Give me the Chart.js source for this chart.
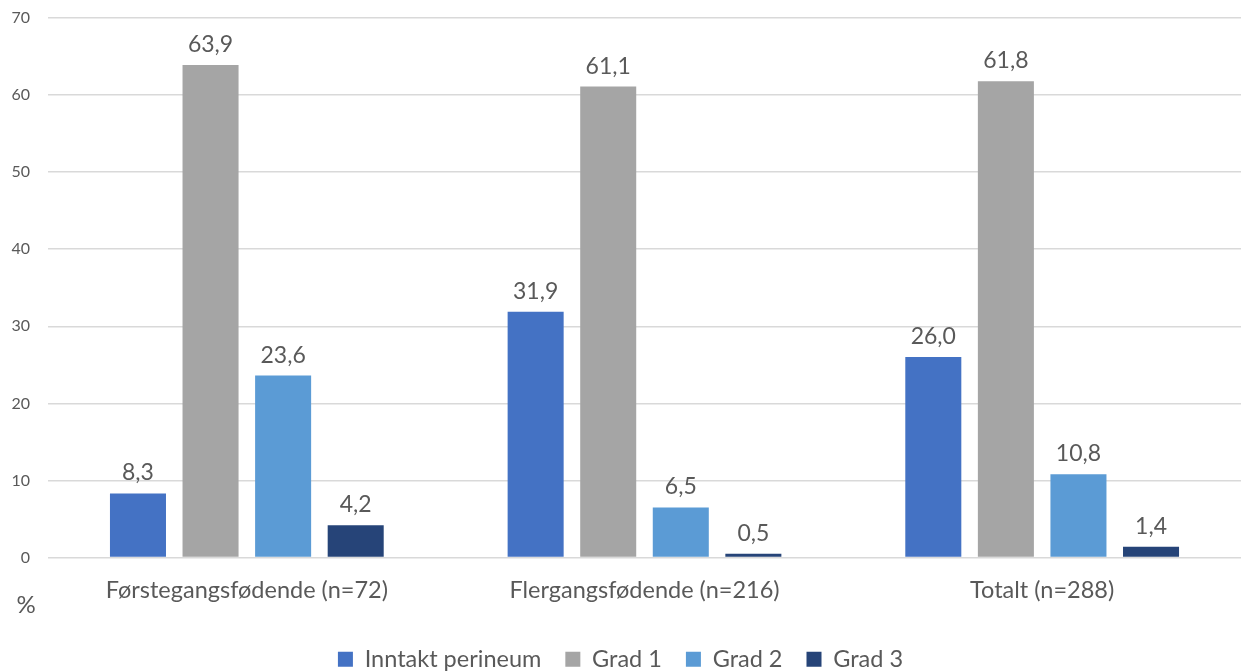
<!DOCTYPE html>
<html>
<head>
<meta charset="utf-8">
<script src="https://cdn.jsdelivr.net/npm/chart.js@4/dist/chart.umd.min.js"></script>
<style>
  html, body { margin: 0; padding: 0; background: #fff; }
  #wrap { width: 1241px; height: 671px; position: relative; }
</style>
</head>
<body>
<div id="wrap"><canvas id="c" width="1241" height="671"></canvas></div>
<script>
const categories = ['Førstegangsfødende (n=72)', 'Flergangsfødende (n=216)', 'Totalt (n=288)'];
const seriesNames = ['Inntakt perineum', 'Grad 1', 'Grad 2', 'Grad 3'];
const inntakt = [8.3, 31.9, 26.0];
const grad1 = [63.9, 61.1, 61.8];
const grad2 = [23.6, 6.5, 10.8];
const grad3 = [4.2, 0.5, 1.4];
const yTicks = [0, 10, 20, 30, 40, 50, 60, 70];
const colors = ['#4472C4', '#A5A5A5', '#5B9BD5', '#264478'];

const FONT = 'Lato, "Open Sans", sans-serif';
const TEXT = '#595959';

// Draws each bar's value above it, with a decimal comma
const valueLabels = {
  id: 'valueLabels',
  afterDatasetsDraw(chart) {
    const ctx = chart.ctx;
    ctx.save();
    ctx.font = '23px ' + FONT;
    ctx.fillStyle = TEXT;
    ctx.textAlign = 'center';
    ctx.textBaseline = 'bottom';
    chart.data.datasets.forEach((ds, i) => {
      const meta = chart.getDatasetMeta(i);
      meta.data.forEach((bar, j) => {
        const txt = ds.data[j].toFixed(1).replace('.', ',');
        ctx.fillText(txt, bar.x, bar.y - 9);
      });
    });
    ctx.restore();
  }
};

// Unit marker under the value axis
const unitLabel = {
  id: 'unitLabel',
  afterDraw(chart) {
    const ctx = chart.ctx;
    ctx.save();
    ctx.font = '24px ' + FONT;
    ctx.fillStyle = TEXT;
    ctx.textAlign = 'center';
    ctx.textBaseline = 'middle';
    ctx.fillText('%', 26, chart.chartArea.bottom + 48);
    ctx.restore();
  }
};

new Chart(document.getElementById('c'), {
  type: 'bar',
  data: {
    labels: categories,
    datasets: [inntakt, grad1, grad2, grad3].map((d, i) => ({
      label: seriesNames[i],
      data: d,
      backgroundColor: colors[i],
      categoryPercentage: 0.73,
      barPercentage: 0.772
    }))
  },
  options: {
    responsive: false,
    animation: false,
    layout: { padding: { top: 18, right: 0, left: 0, bottom: -10 } },
    plugins: {
      legend: {
        position: 'bottom',
        labels: {
          color: TEXT,
          font: { family: FONT, size: 23.5 },
          boxWidth: 15,
          boxHeight: 15,
          padding: 24
        }
      },
      tooltip: { enabled: false }
    },
    scales: {
      x: {
        grid: { display: false },
        border: { display: false },
        ticks: { color: TEXT, font: { family: FONT, size: 23.5 }, padding: 11 },
        afterFit(scale) { scale.height = 66; }
      },
      y: {
        min: 0, max: 70,
        afterBuildTicks(scale) { scale.ticks = yTicks.map(v => ({ value: v })); },
        grid: { color: '#D9D9D9', lineWidth: 1.5, drawTicks: false },
        border: { display: false },
        ticks: { color: TEXT, font: { family: FONT, size: 16 }, padding: 18 },
        afterFit(scale) { scale.width = 48; scale.paddingTop = 0; scale.paddingBottom = 0; }
      }
    }
  },
  plugins: [valueLabels, unitLabel]
});
</script>
</body>
</html>
